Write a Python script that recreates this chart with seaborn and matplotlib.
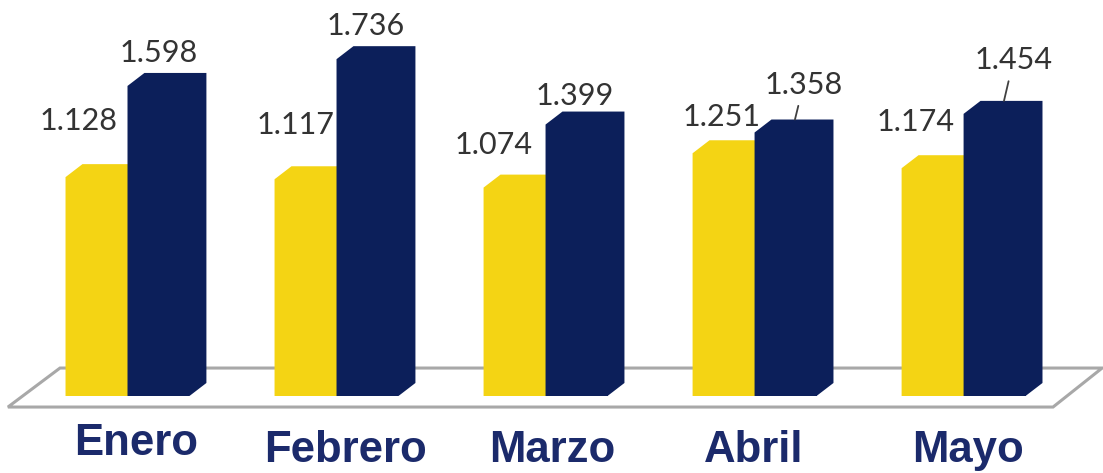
import pandas as pd
import matplotlib
matplotlib.use("Agg")
import matplotlib.pyplot as plt
from matplotlib.patches import Polygon
import seaborn as sns

# datos
meses = ["Enero", "Febrero", "Marzo", "Abril", "Mayo"]
serie_amarilla = [1.128, 1.117, 1.074, 1.251, 1.174]
serie_azul = [1.598, 1.736, 1.399, 1.358, 1.454]

AMARILLO = "#F4D414"
AZUL = "#0C1F5A"
COLOR_MES = "#1B2A6B"
COLOR_VALOR = "#333333"

# desplazamiento de las etiquetas (pixeles) respecto al tope frontal de cada barra
off_amarilla = [(-18, 56), (-10, 54), (-21, 43), (-2, 36), (-17, 46)]
off_azul = [(0, 33), (-2, 33), (-2, 29), (18, 48), (19, 54)]
con_guia = [False, False, False, True, True]
off_mes = [(9, -59), (9, -66), (7, -66), (-1, -66), (4, -66)]

# profundidad del falso 3D, en unidades de datos
DX, DY = 0.081, 0.067

df = pd.DataFrame({
    "mes": meses * 2,
    "serie": ["a"] * len(meses) + ["b"] * len(meses),
    "valor": serie_amarilla + serie_azul,
})

sns.set_style("white")
fig = plt.figure(figsize=(11.03, 4.73), dpi=100)
ax = fig.add_axes([0, 0, 1, 1])

sns.barplot(data=df, x="mes", y="valor", hue="serie", order=meses,
            palette=[AMARILLO, AZUL], width=0.593, legend=False,
            saturation=1, linewidth=0, ax=ax)

ax.set_xlim(-0.610, 4.667)
ax.set_ylim(-0.397, 2.041)
ax.axis("off")

# piso en perspectiva
piso = Polygon([(-0.572, -0.057), (4.428, -0.057), (4.663, 0.144), (-0.323, 0.144)],
               closed=True, fill=False, edgecolor="#a8a8a8", lw=2.2, zorder=1)
ax.add_patch(piso)

# caras superior y lateral de cada barra
for k, (cont, color) in enumerate(zip(ax.containers, [AMARILLO, AZUL])):
    for bar in cont:
        bar.set_zorder(2 + k)
        x0 = bar.get_x()
        x1 = x0 + bar.get_width()
        h = bar.get_height()
        ax.add_patch(Polygon([(x0, 0), (x0, h), (x0 + DX, h + DY), (x1 + DX, h + DY),
                              (x1 + DX, DY), (x1, 0)],
                             closed=True, facecolor=color, edgecolor="none",
                             zorder=2 + k))

# etiquetas de valores
for cont, offs, vals in zip(ax.containers, [off_amarilla, off_azul],
                            [serie_amarilla, serie_azul]):
    for i, (bar, (dx, dy), v) in enumerate(zip(cont, offs, vals)):
        xc = bar.get_x() + bar.get_width() / 2
        kw = {}
        if cont is ax.containers[1] and con_guia[i]:
            kw["arrowprops"] = dict(arrowstyle="-", color="#404040", lw=1.3,
                                    shrinkA=3, shrinkB=0)
            xy = (xc + 0.045, v + DY)
            dx_txt = dx - 0.045 * 209
            dy_txt = dy - DY * 194
        else:
            xy = (xc, v)
            dx_txt, dy_txt = dx, dy
        ax.annotate(f"{v:.3f}", xy=xy, xytext=(dx_txt, dy_txt),
                    textcoords="offset pixels", ha="center", va="center",
                    fontsize=22, family="Lato", color=COLOR_VALOR, zorder=6, **kw)

# nombres de los meses
for i, (mes, (dx, dy)) in enumerate(zip(meses, off_mes)):
    ax.annotate(mes, xy=(i, 0), xytext=(dx, dy), textcoords="offset pixels",
                ha="center", va="baseline", fontsize=31.5, fontweight="bold",
                family="Liberation Sans", color=COLOR_MES)

fig.savefig("out.png", dpi=100)
